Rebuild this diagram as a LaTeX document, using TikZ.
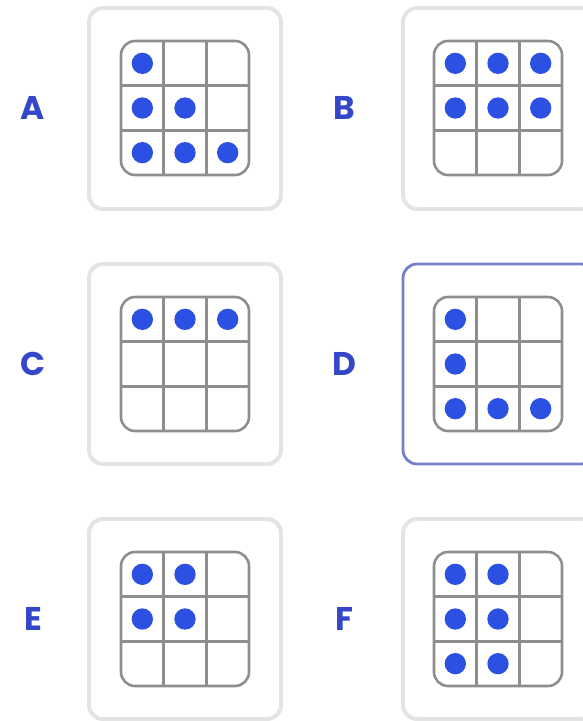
\documentclass[tikz,border=0pt]{standalone}
\usepackage{fontspec}
\setmainfont{Poppins}
\definecolor{dotblue}{HTML}{2C50E2}
\definecolor{letterblue}{HTML}{3447C9}
\definecolor{panelgray}{HTML}{E4E4E4}
\definecolor{selblue}{HTML}{7282C4}
\definecolor{linegray}{HTML}{8E8E8E}
\tikzset{
  panel/.style={draw=panelgray, line width=3.4pt, fill=white, rounded corners=0.42cm},
  panelsel/.style={draw=selblue, line width=2.4pt, fill=white, rounded corners=0.42cm},
  gridline/.style={draw=linegray, line width=2.2pt},
  gridbox/.style={gridline, rounded corners=0.42cm},
  dot/.style={fill=dotblue},
  letter/.style={text=letterblue, font=\fontsize{28}{30}\selectfont\bfseries, inner sep=0pt}
}
\begin{document}
\begin{tikzpicture}[x=0.03cm,y=-0.03cm]
\useasboundingbox (0,0) rectangle (583,721);
% labels
\node[letter] (labA) at (33,108) {A};
\node[letter] (labB) at (344,108) {B};
\node[letter] (labC) at (33,364) {C};
\node[letter] (labD) at (344,364) {D};
\node[letter] (labE) at (33,619) {E};
\node[letter] (labF) at (344,619) {F};
% A
\begin{scope}[shift={(89,8)}]
\draw[panel] (0,0) rectangle (192,201);
\begin{scope}[shift={(32,33)},x=1.28cm,y=-1.34cm]
\draw[gridbox] (0,0) rectangle (3,3);
\draw[gridline] (1,0) -- (1,3) (2,0) -- (2,3) (0,1) -- (3,1) (0,2) -- (3,2);
\fill[dot] (0.5,0.5) circle (0.32cm);
\fill[dot] (0.5,1.5) circle (0.32cm);
\fill[dot] (1.5,1.5) circle (0.32cm);
\fill[dot] (0.5,2.5) circle (0.32cm);
\fill[dot] (1.5,2.5) circle (0.32cm);
\fill[dot] (2.5,2.5) circle (0.32cm);
\end{scope}
\end{scope}
% B
\begin{scope}[shift={(403,8)}]
\draw[panel] (0,0) rectangle (192,201);
\begin{scope}[shift={(31,33)},x=1.28cm,y=-1.34cm]
\draw[gridbox] (0,0) rectangle (3,3);
\draw[gridline] (1,0) -- (1,3) (2,0) -- (2,3) (0,1) -- (3,1) (0,2) -- (3,2);
\fill[dot] (0.5,0.5) circle (0.32cm);
\fill[dot] (1.5,0.5) circle (0.32cm);
\fill[dot] (2.5,0.5) circle (0.32cm);
\fill[dot] (0.5,1.5) circle (0.32cm);
\fill[dot] (1.5,1.5) circle (0.32cm);
\fill[dot] (2.5,1.5) circle (0.32cm);
\end{scope}
\end{scope}
% C
\begin{scope}[shift={(89,264)}]
\draw[panel] (0,0) rectangle (192,200);
\begin{scope}[shift={(32,33)},x=1.28cm,y=-1.34cm]
\draw[gridbox] (0,0) rectangle (3,3);
\draw[gridline] (1,0) -- (1,3) (2,0) -- (2,3) (0,1) -- (3,1) (0,2) -- (3,2);
\fill[dot] (0.5,0.5) circle (0.32cm);
\fill[dot] (1.5,0.5) circle (0.32cm);
\fill[dot] (2.5,0.5) circle (0.32cm);
\end{scope}
\end{scope}
% D (selected)
\begin{scope}[shift={(403,264)}]
\draw[panelsel] (0,0) rectangle (192,200);
\begin{scope}[shift={(31,33)},x=1.28cm,y=-1.34cm]
\draw[gridbox] (0,0) rectangle (3,3);
\draw[gridline] (1,0) -- (1,3) (2,0) -- (2,3) (0,1) -- (3,1) (0,2) -- (3,2);
\fill[dot] (0.5,0.5) circle (0.32cm);
\fill[dot] (0.5,1.5) circle (0.32cm);
\fill[dot] (0.5,2.5) circle (0.32cm);
\fill[dot] (1.5,2.5) circle (0.32cm);
\fill[dot] (2.5,2.5) circle (0.32cm);
\end{scope}
\end{scope}
% E
\begin{scope}[shift={(89,519)}]
\draw[panel] (0,0) rectangle (192,200);
\begin{scope}[shift={(32,33)},x=1.28cm,y=-1.34cm]
\draw[gridbox] (0,0) rectangle (3,3);
\draw[gridline] (1,0) -- (1,3) (2,0) -- (2,3) (0,1) -- (3,1) (0,2) -- (3,2);
\fill[dot] (0.5,0.5) circle (0.32cm);
\fill[dot] (1.5,0.5) circle (0.32cm);
\fill[dot] (0.5,1.5) circle (0.32cm);
\fill[dot] (1.5,1.5) circle (0.32cm);
\end{scope}
\end{scope}
% F
\begin{scope}[shift={(403,519)}]
\draw[panel] (0,0) rectangle (192,200);
\begin{scope}[shift={(31,33)},x=1.28cm,y=-1.34cm]
\draw[gridbox] (0,0) rectangle (3,3);
\draw[gridline] (1,0) -- (1,3) (2,0) -- (2,3) (0,1) -- (3,1) (0,2) -- (3,2);
\fill[dot] (0.5,0.5) circle (0.32cm);
\fill[dot] (1.5,0.5) circle (0.32cm);
\fill[dot] (0.5,1.5) circle (0.32cm);
\fill[dot] (1.5,1.5) circle (0.32cm);
\fill[dot] (0.5,2.5) circle (0.32cm);
\fill[dot] (1.5,2.5) circle (0.32cm);
\end{scope}
\end{scope}
\end{tikzpicture}
\end{document}
